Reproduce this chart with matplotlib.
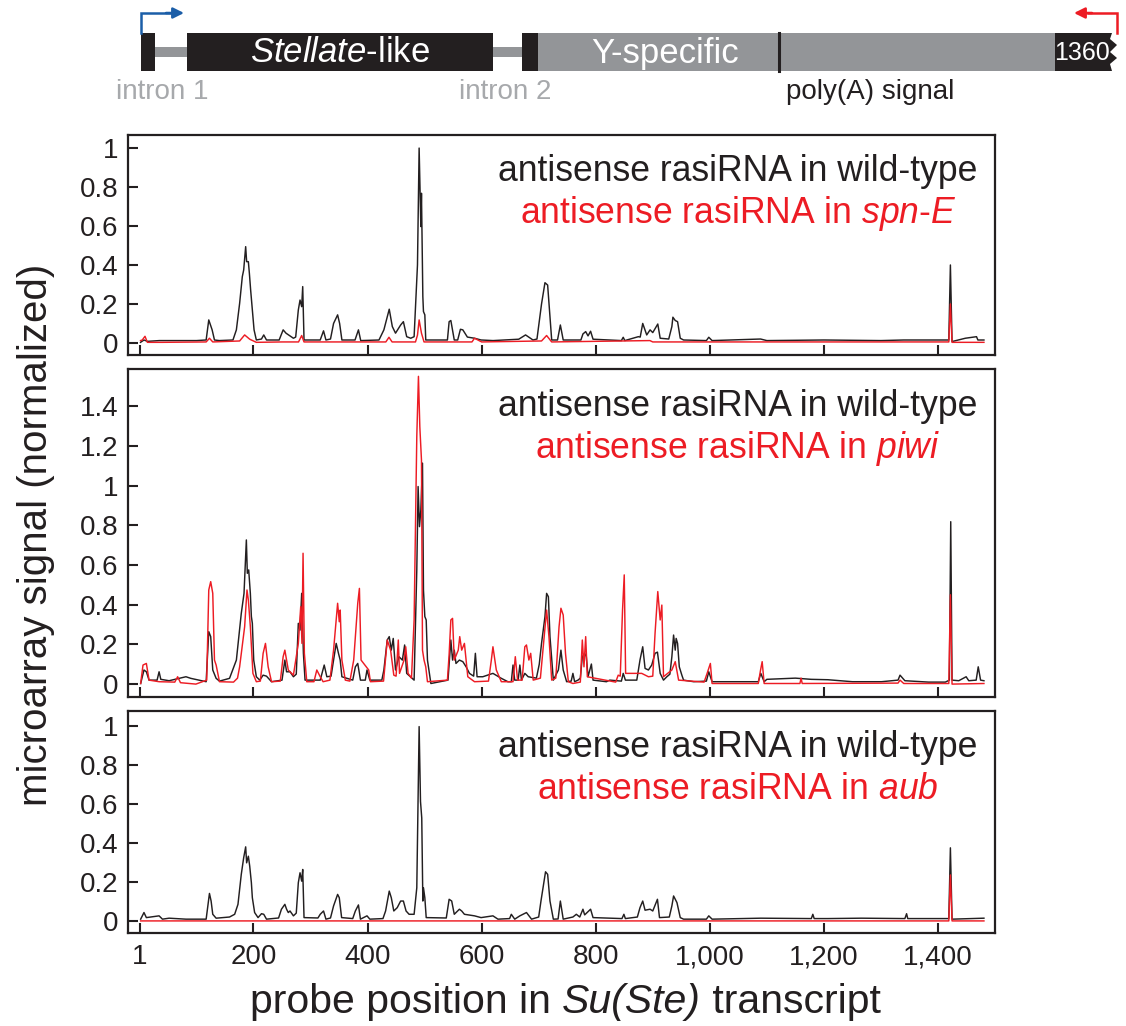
import matplotlib
matplotlib.use('Agg')
import matplotlib.pyplot as plt
from matplotlib.patches import Rectangle, Polygon
from matplotlib.transforms import offset_copy

plt.rcParams['font.family'] = ['Liberation Sans', 'DejaVu Sans']
plt.rcParams['mathtext.fontset'] = 'custom'
plt.rcParams['mathtext.rm'] = 'Liberation Sans'
plt.rcParams['mathtext.it'] = 'Liberation Sans:italic'

BLACK = '#231f20'
RED = '#ed1c24'
BLUE = '#1b5ea8'
GREY = '#939598'
LIGHTGREY = '#a7a9ac'

# ---- data: (probe position, normalized signal) ----
p1_wt = [(2, 0.003), (8, 0.015), (14, 0.008), (35, 0.012), (70, 0.012), (100, 0.012),
         (117, 0.015), (121.6, 0.118), (127.5, 0.067), (131.6, 0.015), (140, 0.012),
         (164, 0.015), (170, 0.067), (175.7, 0.203), (180.4, 0.34), (182.8, 0.374),
         (186.3, 0.494), (188, 0.417), (191, 0.417), (192.8, 0.357), (195, 0.272),
         (198, 0.169), (201, 0.067), (205, 0.015), (214, 0.02), (218, 0.041), (222.8, 0.015),
         (245, 0.015), (252, 0.067), (257, 0.05), (264, 0.036), (270, 0.024), (274, 0.03),
         (278.6, 0.169), (281.6, 0.22), (284.5, 0.186), (286.3, 0.289), (288.6, 0.015),
         (317, 0.015), (322.8, 0.062), (327, 0.015), (335, 0.02), (340.4, 0.1), (347.5, 0.144),
         (351, 0.1), (355, 0.015), (378, 0.015), (384, 0.067), (388, 0.012), (420, 0.015),
         (428.6, 0.067), (438, 0.173), (443.4, 0.084), (449, 0.05), (458, 0.092),
         (462.8, 0.109), (468.6, 0.032), (475.7, 0.024), (481.6, 0.032), (487.5, 0.40),
         (490.4, 1.0), (493.4, 0.597), (494.5, 0.768), (496.9, 0.238), (498, 0.161),
         (500.4, 0.144), (502, 0.015), (540, 0.015), (543, 0.109), (546, 0.115), (552, 0.015),
         (558, 0.015), (562.8, 0.07), (567, 0.067), (575, 0.03), (587.5, 0.024), (599, 0.015),
         (620, 0.012), (665, 0.019), (677, 0.041), (690, 0.015), (697, 0.02), (702, 0.135),
         (705, 0.2), (711, 0.309), (715.7, 0.297), (722.8, 0.015), (733, 0.015), (738, 0.092),
         (743, 0.015), (760, 0.015), (774, 0.015), (777.6, 0.046), (782.4, 0.058),
         (786.5, 0.036), (791, 0.06), (795.3, 0.019), (845, 0.012), (848.2, 0.029),
         (851, 0.012), (874.7, 0.032), (878, 0.03), (882.4, 0.1), (889.4, 0.041),
         (895.3, 0.067), (900, 0.053), (908.8, 0.097), (913, 0.024), (928, 0.02),
         (933.5, 0.084), (935.3, 0.132), (939.4, 0.115), (943.5, 0.109), (948.2, 0.024),
         (954, 0.015), (994, 0.012), (998.2, 0.029), (1004, 0.012), (1089, 0.02),
         (1100, 0.012), (1200, 0.015), (1300, 0.012), (1340, 0.015), (1419, 0.015),
         (1421.8, 0.40), (1424.7, 0.007), (1448, 0.024), (1467.6, 0.032), (1470, 0.015),
         (1480.6, 0.015)]

p1_spne = [(2, 0.012), (5, 0.015), (9.8, 0.034), (14, 0.003), (40, 0.003), (117, 0.005),
           (122.8, 0.024), (128.6, 0.005), (175.7, 0.01), (184.5, 0.041), (193.4, 0.019),
           (205, 0.003), (250, 0.005), (279, 0.005), (284.5, 0.038), (288.6, 0.005),
           (432, 0.005), (437.5, 0.029), (443, 0.005), (484, 0.005), (487.5, 0.04),
           (490.4, 0.118), (494.5, 0.05), (499, 0.005), (583, 0.005), (587.5, 0.024),
           (600, 0.005), (705, 0.01), (713.9, 0.038), (722.8, 0.005), (895, 0.012),
           (900, 0.005), (1419, 0.005), (1421.8, 0.20), (1424.7, 0.003), (1480.6, 0.003)]

p2_wt = [(2.2, 0.003), (8, 0.071), (12.2, 0.062), (16.9, 0.02), (31, 0.02), (34.5, 0.062),
         (37.5, 0.024), (52, 0.017), (81.6, 0.037), (90, 0.029), (117, 0.012),
         (121.6, 0.264), (125, 0.239), (128.6, 0.071), (134.5, 0.029), (140.4, 0.015),
         (158, 0.029), (170, 0.121), (178.6, 0.356), (183.4, 0.457), (187.5, 0.726),
         (189.2, 0.558), (191.6, 0.575), (194.5, 0.457), (196.3, 0.34), (198, 0.306),
         (200.4, 0.121), (205, 0.037), (211, 0.02), (216.9, 0.045), (222.8, 0.04),
         (231.6, 0.012), (250, 0.02), (255, 0.121), (258, 0.062), (264, 0.062), (270, 0.037),
         (275, 0.05), (278.6, 0.306), (281.6, 0.272), (284.5, 0.457), (287.5, 0.155),
         (290.4, 0.02), (317, 0.02), (324, 0.096), (328.6, 0.037), (336, 0.04),
         (340.4, 0.121), (345, 0.205), (349, 0.155), (352, 0.121), (355, 0.037), (374, 0.02),
         (378.6, 0.087), (382.8, 0.104), (387.5, 0.02), (396, 0.02), (399, 0.071),
         (404, 0.02), (425, 0.02), (428.6, 0.071), (434.5, 0.222), (438, 0.239),
         (441.6, 0.171), (445, 0.23), (449, 0.071), (455, 0.138), (461, 0.121), (465, 0.197),
         (468.6, 0.054), (481.6, 0.02), (486.3, 0.575), (488.6, 0.995), (491, 0.793),
         (493.4, 0.877), (496.3, 1.113), (498, 0.474), (500.4, 0.34), (502.8, 0.323),
         (505, 0.121), (511, 0.003), (541, 0.02), (546, 0.222), (549, 0.121), (552, 0.171),
         (555, 0.104), (561, 0.121), (567, 0.113), (572.8, 0.087), (578.6, 0.054),
         (586, 0.04), (589, 0.155), (592, 0.037), (602, 0.037), (619.8, 0.054),
         (634.5, 0.029), (646, 0.012), (652, 0.012), (655, 0.096), (658, 0.02), (664, 0.02),
         (667, 0.096), (669.8, 0.02), (675.7, 0.054), (681.6, 0.037), (696, 0.03),
         (701, 0.1), (705, 0.205), (711, 0.34), (713.9, 0.457), (717, 0.44), (719.8, 0.239),
         (725.7, 0.02), (734.5, 0.071), (739, 0.171), (743, 0.071), (749, 0.012),
         (757, 0.015), (760, 0.054), (763, 0.012), (769, 0.02), (773, 0.03), (776.5, 0.138),
         (780.6, 0.155), (783.5, 0.138), (786.5, 0.037), (792.4, 0.101), (795.3, 0.02),
         (818.8, 0.012), (824.7, 0.02), (845, 0.015), (848.2, 0.054), (852, 0.02),
         (872, 0.02), (877.6, 0.121), (882.4, 0.188), (886.5, 0.079), (892.4, 0.071),
         (898.2, 0.096), (904, 0.155), (908.2, 0.161), (913, 0.054), (918.8, 0.02),
         (924.7, 0.037), (930, 0.05), (933.5, 0.138), (936.5, 0.247), (939.4, 0.171),
         (941, 0.23), (943.5, 0.205), (946.5, 0.087), (951, 0.045), (954, 0.02),
         (971.8, 0.012), (994, 0.015), (998.2, 0.062), (1004, 0.012), (1060, 0.012),
         (1085, 0.012), (1089.4, 0.054), (1095.3, 0.012), (1100, 0.024), (1150, 0.03),
         (1177.6, 0.024), (1207, 0.022), (1250, 0.012), (1301, 0.012), (1330, 0.02),
         (1333.5, 0.045), (1342, 0.017), (1383.5, 0.01), (1413, 0.01), (1420, 0.02),
         (1422.4, 0.818), (1424.7, 0.02), (1436.5, 0.017), (1449.4, 0.037), (1454, 0.017),
         (1467, 0.02), (1470.6, 0.087), (1474.7, 0.02), (1480.6, 0.017)]

p2_piwi = [(2.2, 0.003), (6.3, 0.096), (9.8, 0.101), (12.2, 0.104), (16.9, 0.02), (34.5, 0.012),
           (62, 0.01), (67, 0.037), (72, 0.007), (99, 0.0), (118, 0.02), (121.6, 0.474),
           (125, 0.516), (128.6, 0.457), (131.6, 0.121), (134.5, 0.096), (137.5, 0.054),
           (140.4, 0.012), (165, 0.01), (172, 0.03), (175.7, 0.087), (184.5, 0.289),
           (188.6, 0.474), (191, 0.424), (194.5, 0.289), (199, 0.054), (205, 0.012),
           (212, 0.015), (216.9, 0.155), (221, 0.205), (225.7, 0.087), (231.6, 0.012),
           (247, 0.015), (252, 0.138), (255, 0.171), (261, 0.071), (270, 0.045),
           (278.6, 0.205), (282.8, 0.39), (285, 0.205), (286.9, 0.659), (289.2, 0.155),
           (293.4, 0.012), (306, 0.012), (311, 0.071), (317, 0.037), (322, 0.012),
           (334, 0.02), (340.4, 0.171), (347.5, 0.407), (350.4, 0.314), (352, 0.373),
           (355, 0.121), (361, 0.02), (369, 0.015), (375.7, 0.121), (382.8, 0.407),
           (385.7, 0.482), (388.6, 0.121), (402, 0.071), (405, 0.012), (428, 0.015),
           (434.5, 0.222), (440.4, 0.171), (446, 0.045), (450, 0.04), (453.9, 0.222),
           (456, 0.054), (464, 0.121), (466.9, 0.188), (471, 0.054), (477, 0.03),
           (481.6, 0.323), (486.3, 1.247), (489.2, 1.55), (491.6, 1.297), (494.5, 1.129),
           (496.3, 0.171), (499, 0.121), (502, 0.087), (505, 0.012), (540, 0.02),
           (543, 0.15), (546, 0.323), (549, 0.331), (552, 0.121), (559, 0.171),
           (561.6, 0.239), (565, 0.171), (569.8, 0.205), (575.7, 0.037), (587.5, 0.012),
           (612, 0.015), (617, 0.121), (619.8, 0.188), (625.7, 0.071), (634.5, 0.012),
           (655, 0.012), (659, 0.138), (663, 0.02), (671, 0.02), (675.7, 0.188),
           (678.6, 0.197), (682.8, 0.121), (686, 0.155), (690.4, 0.02), (703, 0.03),
           (708, 0.188), (713.9, 0.373), (718, 0.239), (722.8, 0.02), (730, 0.03),
           (735.7, 0.289), (739, 0.382), (743, 0.348), (747, 0.155), (752, 0.012),
           (760, 0.003), (773, 0.01), (776.5, 0.222), (779.4, 0.087), (782.4, 0.239),
           (785.3, 0.037), (835, 0.01), (839.4, 0.045), (843, 0.04), (847, 0.373),
           (850, 0.55), (852.4, 0.054), (880.6, 0.054), (892.4, 0.037), (900, 0.04),
           (904, 0.255), (908.8, 0.466), (913, 0.323), (915.9, 0.398), (918.8, 0.037),
           (933.5, 0.071), (939.4, 0.113), (945.3, 0.02), (990, 0.01), (995.3, 0.054),
           (1001, 0.104), (1004, 0.003), (1085, 0.003), (1089, 0.071), (1091.8, 0.113),
           (1095.3, 0.003), (1158, 0.003), (1160, 0.03), (1162, 0.003), (1330, 0.005),
           (1333.5, 0.02), (1340, 0.003), (1419, 0.003), (1421.8, 0.45), (1424.7, 0.0),
           (1480.6, 0.003)]

p3_wt = [(2.2, 0.009), (8, 0.043), (12.2, 0.017), (34.5, 0.026), (40.4, 0.009), (52, 0.014),
         (81.6, 0.009), (117, 0.009), (122.8, 0.141), (125.7, 0.102), (128.6, 0.034),
         (134.5, 0.014), (158, 0.02), (167, 0.034), (172.8, 0.085), (178.6, 0.239),
         (182.8, 0.324), (186.3, 0.38), (188, 0.298), (191, 0.332), (193.4, 0.281),
         (196.3, 0.196), (198, 0.119), (202, 0.043), (208, 0.017), (214, 0.037), (218, 0.034),
         (222.8, 0.009), (244, 0.015), (249, 0.06), (255, 0.085), (258, 0.06), (261, 0.043),
         (264, 0.051), (270, 0.026), (275, 0.04), (278.6, 0.196), (281.6, 0.247),
         (284.5, 0.204), (286.3, 0.264), (288.6, 0.017), (313, 0.015), (317, 0.034),
         (322.8, 0.051), (327, 0.009), (335, 0.015), (340.4, 0.077), (347.5, 0.136),
         (350.4, 0.119), (354.5, 0.017), (374, 0.012), (378.6, 0.051), (384, 0.082),
         (387.5, 0.009), (399, 0.026), (404, 0.009), (427, 0.012), (431.6, 0.051),
         (438, 0.153), (441.6, 0.119), (446, 0.051), (452, 0.068), (458, 0.102),
         (462.8, 0.102), (467.5, 0.051), (472.8, 0.034), (481.6, 0.034), (486.3, 0.17),
         (490.4, 0.997), (492.8, 0.613), (495, 0.528), (496.9, 0.102), (498, 0.17),
         (500.4, 0.119), (502.8, 0.017), (538, 0.015), (543, 0.111), (547.5, 0.102),
         (552, 0.034), (561, 0.06), (565, 0.051), (569.8, 0.034), (587.5, 0.026), (599, 0.017),
         (619.8, 0.026), (628.6, 0.009), (649, 0.012), (652, 0.034), (658, 0.009),
         (667, 0.026), (678.6, 0.043), (687.5, 0.009), (700, 0.02), (704, 0.102),
         (712, 0.252), (715.7, 0.239), (719.8, 0.102), (725.7, 0.009), (734, 0.01),
         (738, 0.102), (743, 0.009), (760, 0.02), (766, 0.034), (772, 0.02), (777.6, 0.06),
         (780.6, 0.031), (791, 0.06), (795.3, 0.017), (846, 0.012), (849.4, 0.034),
         (852, 0.012), (873, 0.02), (877.6, 0.068), (882.4, 0.102), (886.5, 0.055),
         (895.3, 0.06), (900, 0.051), (908.2, 0.111), (911.8, 0.017), (929, 0.02),
         (933.5, 0.077), (936.5, 0.128), (942.4, 0.094), (948.2, 0.017), (954, 0.009),
         (994, 0.009), (998.2, 0.026), (1004, 0.009), (1089.4, 0.014), (1178, 0.012),
         (1180.6, 0.034), (1183, 0.012), (1207, 0.012), (1266, 0.014), (1342, 0.012),
         (1345, 0.037), (1347, 0.012), (1419, 0.012), (1421.8, 0.375), (1424.7, 0.009),
         (1480.6, 0.014)]

p3_aub = [(2.2, 0.0), (1419, 0.0), (1421.8, 0.236), (1424.7, 0.0), (1480.6, 0.0)]

panels = [
    (p1_wt, p1_spne, 'spn-E', [0, 0.2, 0.4, 0.6, 0.8, 1], (-0.062, 1.067)),
    (p2_wt, p2_piwi, 'piwi', [0, 0.2, 0.4, 0.6, 0.8, 1, 1.2, 1.4], (-0.065, 1.587)),
    (p3_wt, p3_aub, 'aub', [0, 0.2, 0.4, 0.6, 0.8, 1], (-0.062, 1.077)),
]
x_ticks = [1, 200, 400, 600, 800, 1000, 1200, 1400]
x_ticklabels = ['1', '200', '400', '600', '800', '1,000', '1,200', '1,400']

# gene schematic (schematic units = pixels across the figure)
exon_blocks = [(141, 155), (187, 493), (522, 538)]
intron_bars = [(155, 187), (493, 522)]
y_specific = (538, 1055)
polya_pos = 779
end_block = (1055, 1110)

W, H = 1126, 1026
fig = plt.figure(figsize=(W / 100, H / 100), dpi=100)


def rich_text(x, y, parts, transform, **kw):
    """Centered text made of (string, fontstyle) pieces placed side by side."""
    r = fig.canvas.get_renderer()
    objs = [fig.text(x, y, s, transform=transform, style=st, ha='left', va='baseline', **kw)
            for s, st in parts]
    widths = [o.get_window_extent(r).width for o in objs]
    off = -sum(widths) / 2
    for o, w in zip(objs, widths):
        o.set_transform(offset_copy(transform, fig=fig, x=off, y=0, units='dots'))
        off += w


# ---------- schematic ----------
g = fig.add_axes([0, 1 - 110 / H, 1, 110 / H])
g.set_xlim(0, W)
g.set_ylim(110, 0)
g.axis('off')
top, bot = 33, 71
for a, b in intron_bars:
    g.add_patch(Rectangle((a, 47), b - a, 10, color=GREY, lw=0))
g.add_patch(Rectangle((y_specific[0], top), y_specific[1] - y_specific[0], bot - top, color=GREY, lw=0))
for a, b in exon_blocks:
    g.add_patch(Rectangle((a, top), b - a, bot - top, color=BLACK, lw=0))
g.plot([polya_pos, polya_pos], [top, bot], color=BLACK, lw=2.2)
e0, e1 = end_block
g.add_patch(Polygon([(e0, top), (e1 + 2, top), (e1, 39), (e1 + 7, 45), (e1, 52), (e1 + 7, 58),
                     (e1, 64), (e1 + 2, bot), (e0, bot)], closed=True, color=BLACK, lw=0))
g.text(340, 53, r'$\mathit{Stellate}$-like', color='white', fontsize=25, ha='center', va='center')
g.text(665, 53, 'Y-specific', color='white', fontsize=25, ha='center', va='center')
g.text(1082, 53, '1360', color='white', fontsize=18, ha='center', va='center')
g.text(162, 92, 'intron 1', color=LIGHTGREY, fontsize=20, ha='center', va='center')
g.text(505, 92, 'intron 2', color=LIGHTGREY, fontsize=20, ha='center', va='center')
g.text(870, 92, 'poly(A) signal', color=BLACK, fontsize=20, ha='center', va='center')
# transcription start arrows
g.plot([141, 141, 170], [top, 13, 13], color=BLUE, lw=1.8, solid_joinstyle='miter')
g.annotate('', xy=(184, 13), xytext=(166, 13),
           arrowprops=dict(arrowstyle='-|>', color=BLUE, lw=1.8, mutation_scale=16, shrinkA=0, shrinkB=0))
g.plot([1117, 1117, 1088], [top, 13, 13], color=RED, lw=1.8, solid_joinstyle='miter')
g.annotate('', xy=(1074, 13), xytext=(1092, 13),
           arrowprops=dict(arrowstyle='-|>', color=RED, lw=1.8, mutation_scale=16, shrinkA=0, shrinkB=0))

# ---------- signal panels ----------
left, width = 128 / W, 867 / W
boxes = [(135, 355), (369, 697), (711, 933)]
text_y = [(0.791, 0.600), (0.857, 0.729), (0.793, 0.604)]

for i, ((wt, mut, name, yt, ylim), (t, b), (ty1, ty2)) in enumerate(zip(panels, boxes, text_y)):
    ax = fig.add_axes([left, 1 - b / H, width, (b - t) / H])
    ax.plot([p for p, v in wt], [v for p, v in wt], color=BLACK, lw=1.05, zorder=2)
    ax.plot([p for p, v in mut], [v for p, v in mut], color=RED, lw=1.05, zorder=3)
    ax.set_xlim(-20, 1500)
    ax.set_ylim(*ylim)
    ax.set_yticks(yt)
    ax.set_yticklabels(['%g' % v for v in yt])
    ax.set_xticks(x_ticks)
    if i == 2:
        ax.set_xticklabels(x_ticklabels, fontsize=19)
    else:
        ax.set_xticklabels([])
    ax.tick_params(direction='in', length=7, width=1.5, color=BLACK, labelsize=20,
                   labelcolor=BLACK, pad=7)
    ax.tick_params(axis='x', pad=8)
    for s in ax.spines.values():
        s.set_linewidth(1.6)
        s.set_color(BLACK)
    ax.text(0.7036, ty1, 'antisense rasiRNA in wild-type', transform=ax.transAxes,
            color=BLACK, fontsize=25.6, ha='center', va='baseline')
    ax.text(0.7036, ty2, r'antisense rasiRNA in $\mathit{%s}$' % name.replace('-', '}$-$\\mathit{'),
            transform=ax.transAxes, color=RED, fontsize=25.6, ha='center', va='baseline')

rich_text(565 / W, 1 - 1013 / H,
          [('probe position in ', 'normal'), ('Su(Ste)', 'italic'), (' transcript', 'normal')],
          fig.transFigure, fontsize=29.5, color=BLACK)
fig.text(36 / W, 1 - 535 / H, 'microarray signal (normalized)', rotation=90,
         fontsize=29, ha='center', va='center', color=BLACK)

fig.savefig('out.png', dpi=100)
